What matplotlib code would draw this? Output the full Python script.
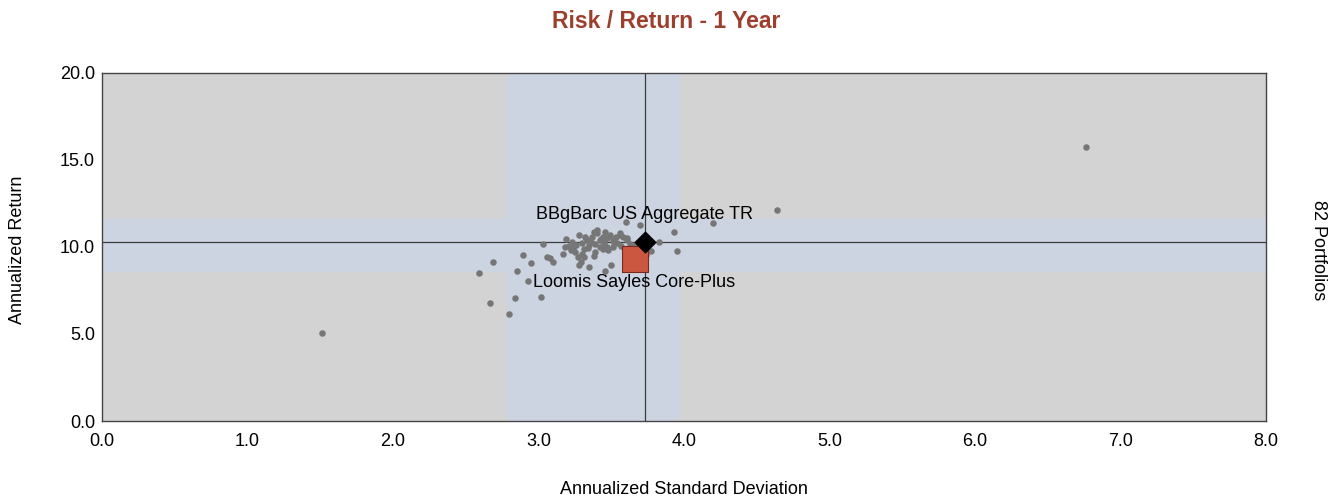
import numpy as np
import matplotlib
matplotlib.use("Agg")
import matplotlib.pyplot as plt

plt.rcParams['font.family'] = ['Liberation Sans', 'DejaVu Sans']

#
#   data
#
peerStd = [1.51, 6.76, 4.64, 4.20, 3.93, 3.95, 3.83, 3.77, 3.70, 3.60,
           2.59, 2.69, 2.67, 2.80, 2.84, 2.93, 3.02, 2.85, 2.89, 2.95,
           3.06, 3.08, 3.10, 3.03, 3.19, 3.18, 3.17, 3.27, 3.29, 3.28,
           3.35, 3.46, 3.50, 3.38, 3.24, 3.26, 3.30, 3.31, 3.33, 3.37,
           3.38, 3.40, 3.42, 3.45, 3.47, 3.46, 3.49, 3.51, 3.54, 3.56,
           3.58, 3.61, 3.51, 3.42, 3.47, 3.35, 3.39, 3.66, 3.74, 3.61,
           3.56, 3.23, 3.25, 3.30, 3.32, 3.44, 3.48, 3.36, 3.21, 3.52,
           3.40, 3.28, 3.44, 3.34, 3.63, 3.57, 3.31, 3.22, 3.53, 3.39,
           3.43]
peerRet = [5.06, 15.75, 12.13, 11.36, 10.86, 9.79, 10.27, 9.79, 11.26, 11.42,
           8.49, 9.16, 6.76, 6.13, 7.05, 8.06, 7.14, 8.60, 9.54, 9.10,
           9.44, 9.35, 9.16, 10.16, 10.44, 9.98, 9.60, 9.44, 9.16, 8.97,
           8.83, 8.62, 8.97, 9.48, 9.93, 10.11, 10.21, 9.87, 10.40, 10.59,
           10.88, 10.79, 10.40, 10.21, 10.50, 10.88, 10.69, 10.40, 10.21, 10.79,
           10.59, 10.40, 9.98, 10.02, 10.02, 10.11, 9.73, 10.11, 9.54, 10.50,
           10.69, 10.30, 9.70, 9.60, 10.55, 10.60, 9.85, 10.30, 10.05, 10.25,
           10.95, 10.70, 9.90, 9.95, 10.20, 10.05, 9.40, 9.80, 10.55, 10.15,
           10.45]

benchName = "BBgBarc US Aggregate TR"
benchStd, benchRet = 3.73, 10.29
fundName = "Loomis Sayles Core-Plus"
fundStd, fundRet = 3.66, 9.31

# shaded bands around the benchmark
bandStd = [2.78, 3.97]
bandRet = [8.56, 11.6]

xticks = [0, 1, 2, 3, 4, 5, 6, 7, 8]
yticks = [0, 5, 10, 15, 20]

#
#   plotting
#
fig = plt.figure(figsize=(13.37, 5.0), dpi=100)
ax = fig.add_axes([0.0763, 0.158, 0.8706, 0.696])
ax.set_facecolor("#d3d3d3")

ax.axvspan(bandStd[0], bandStd[1], color="#cdd4e1", lw=0, zorder=0)
ax.axhspan(bandRet[0], bandRet[1], color="#cdd4e1", lw=0, zorder=0)
ax.axvline(benchStd, color="#3a3a3a", lw=0.9, zorder=1)
ax.axhline(benchRet, color="#3a3a3a", lw=0.9, zorder=1)

ax.text(benchStd, benchRet + 1.6, benchName, ha="center", va="center",
        fontsize=13, zorder=2)
ax.text(fundStd, fundRet - 1.35, fundName, ha="center", va="center",
        fontsize=13, zorder=2)

ax.scatter(peerStd, peerRet, s=22, color="#767676", lw=0, zorder=3)
ax.scatter([fundStd], [fundRet], s=330, marker="s", color="#cc5740",
           edgecolors="#7a2a1c", lw=0.8, zorder=4)
ax.scatter([benchStd], [benchRet], s=110, marker="D", color="black", zorder=5)

ax.set_xlim(0, 8)
ax.set_ylim(0, 20)
ax.set_xticks(xticks)
ax.set_yticks(yticks)
ax.set_xticklabels(["%.1f" % v for v in xticks])
ax.set_yticklabels(["%.1f" % v for v in yticks])
ax.tick_params(axis="x", length=0, labelsize=13, pad=9)
ax.tick_params(axis="y", length=0, labelsize=13, pad=5)
for s in ax.spines.values():
    s.set_color("#444444")
    s.set_linewidth(1.0)

ax.set_xlabel("Annualized Standard Deviation", fontsize=13, labelpad=22)
fig.text(18 / 1337, 0.5, "Annualized Return", rotation=90, ha="center",
         va="center", fontsize=13)
fig.text(0.986, 0.5, "82 Portfolios", rotation=-90, ha="center",
         va="center", fontsize=13)
fig.text(0.4985, 0.958, "Risk / Return - 1 Year", ha="center", va="center",
         fontsize=16.5, fontweight="bold", color="#9c3f2d")

fig.savefig("out.png", dpi=100)
